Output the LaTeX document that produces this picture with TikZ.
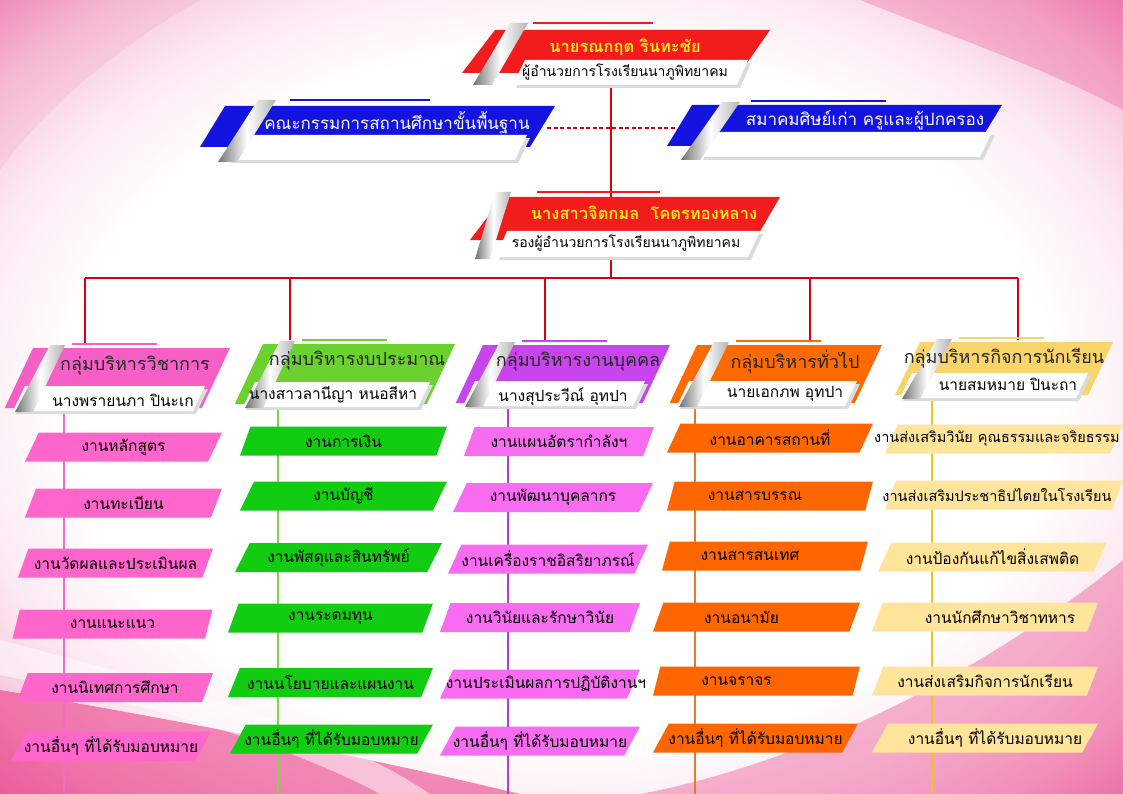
\documentclass[tikz,border=0pt]{standalone}
\usepackage{fontspec}
\newfontfamily\thai[Script=Thai]{Loma}
\usetikzlibrary{shapes.geometric}

\definecolor{hred}{HTML}{F21C1C}
\definecolor{nameY}{HTML}{FFE81A}
\definecolor{hblue}{HTML}{1414E0}
\definecolor{hpink}{HTML}{F55FC6}
\definecolor{hgreen}{HTML}{6AD12E}
\definecolor{hpurple}{HTML}{C844EC}
\definecolor{horange}{HTML}{FF6A00}
\definecolor{hyellow}{HTML}{F9D46A}
\definecolor{tpink}{HTML}{FF66CC}
\definecolor{tgreen}{HTML}{12CC12}
\definecolor{tmag}{HTML}{F86CF2}
\definecolor{torange}{HTML}{FF6600}
\definecolor{tyellow}{HTML}{FFE49C}
\definecolor{lpink}{HTML}{F06CC8}
\definecolor{lgreen}{HTML}{7CD64A}
\definecolor{lpurple}{HTML}{B43CD8}
\definecolor{lorange}{HTML}{E87830}
\definecolor{lyellow}{HTML}{F2C21A}
\definecolor{cred}{HTML}{D80010}
\definecolor{bgA}{HTML}{FCEAF2}
\definecolor{bgB}{HTML}{F7C2DA}
\definecolor{bgC}{HTML}{EE8CBC}
\definecolor{swA}{HTML}{E8307E}

\pgfdeclareradialshading{bgshade}{\pgfpoint{0bp}{0bp}}{color(0bp)=(white); color(22bp)=(white); color(27bp)=(bgA); color(32bp)=(bgB); color(36bp)=(bgC); color(50bp)=(bgC)}

\newcommand{\tsz}{\fontsize{15.5}{18}\selectfont}
\newcommand{\tszs}{\fontsize{14.5}{17}\selectfont}
\newcommand{\hsz}{\fontsize{18}{20}\selectfont}
\newcommand{\ssz}{\fontsize{15.5}{18}\selectfont}
\newcommand{\nsz}{\fontsize{16.5}{20}\selectfont}
\newcommand{\psz}{\fontsize{14}{17}\selectfont}

\tikzset{
  silver/.style={left color=black!55, right color=black!30, middle color=white},
  wshadow/.style={fill=black!14},
  topline/.style={line width=2pt, draw=#1},
  redline/.style={draw=cred, line width=2pt},
  colline/.style={draw=#1, line width=2.2pt},
  task/.style={trapezium, trapezium left angle=50, trapezium right angle=130,
    trapezium stretches body, minimum height=29pt, inner sep=0pt, fill=#1,
    font=\thai\tsz, text=black},
  htitle/.style={font=\thai\hsz, text=black!85},
  hsub/.style={font=\thai\ssz, text=black},
  psub/.style={font=\thai\psz, text=black},
  pname/.style={font=\thai\nsz\bfseries, text=nameY},
}

\newcommand{\grpHead}[5]{%
  \pgfmathsetmacro{\ghS}{0.47*#5}%
  \fill[#4] (#1,#2) -- (#1+#3,#2) -- (#1+#3-\ghS,#2+#5) -- (#1-\ghS,#2+#5) -- cycle;
  \fill[wshadow] (#1-5,#2+#5-19) -- (#1+#3-22,#2+#5-19) -- (#1+#3-34,#2+#5+6) -- (#1-17,#2+#5+6) -- cycle;
  \fill[white] (#1-8,#2+#5-22) -- (#1+#3-25,#2+#5-22) -- (#1+#3-37,#2+#5+3) -- (#1-20,#2+#5+3) -- cycle;
  \shade[silver] (#1+17,#2-3) -- (#1+32,#2-3) -- (#1,#2+#5+4) -- (#1-18,#2+#5+4) -- cycle;
  \draw[topline=#4] (#1+39,#2-4) -- (#1+124,#2-4);
}

\begin{document}
\begin{tikzpicture}[x=1pt,y=-1pt]
\useasboundingbox (0,0) rectangle (1123,794);
% background
\shade[shading=bgshade] (0,0) rectangle (1123,794);
\fill[swA, opacity=0.55] (0,690) .. controls (180,720) and (380,760) .. (520,794) -- (0,794) -- cycle;
\fill[white, opacity=0.5] (0,640) .. controls (150,680) and (320,720) .. (430,794) -- (380,794) .. controls (280,740) and (130,700) .. (0,675) -- cycle;
\fill[swA, opacity=0.35] (640,794) .. controls (820,760) and (1000,660) .. (1123,560) -- (1123,794) -- cycle;
\fill[swA, opacity=0.25] (860,0) .. controls (960,40) and (1050,70) .. (1123,110) -- (1123,0) -- cycle;
\fill[swA, opacity=0.08] (0,0) -- (200,0) .. controls (130,40) and (50,100) .. (0,170) -- cycle;

% connector coordinates
\coordinate (topB) at (611,85);
\coordinate (midT) at (611,197);
\coordinate (midB) at (611,257);
\coordinate (busC) at (611,278);
\coordinate (bus1) at (85,278);
\coordinate (bus2) at (290,278);
\coordinate (bus3) at (545,278);
\coordinate (bus4) at (810,278);
\coordinate (bus5) at (1018,278);
\coordinate (h1t) at (85,343);
\coordinate (h2t) at (290,340);
\coordinate (h3t) at (545,340);
\coordinate (h4t) at (810,340);
\coordinate (h5t) at (1018,340);
\coordinate (b1r) at (547,128);
\coordinate (b2l) at (675,128);

\draw[redline] (topB) -- (midT);
\draw[redline] (midB) -- (busC);
\draw[redline] (bus1) -- (bus5);
\draw[redline] (bus1) -- (h1t);
\draw[redline] (bus2) -- (h2t);
\draw[redline] (bus3) -- (h3t);
\draw[redline] (bus4) -- (h4t);
\draw[redline] (bus5) -- (h5t);
\draw[draw=cred, line width=1.6pt, dash pattern=on 4pt off 2.5pt] (b1r) -- (b2l);

% column lines
\coordinate (c1t) at (64,412);   \coordinate (c1b) at (64,794);
\coordinate (c2t) at (278,410);  \coordinate (c2b) at (278,794);
\coordinate (c3t) at (508,408);  \coordinate (c3b) at (508,794);
\coordinate (c4t) at (695,406);  \coordinate (c4b) at (695,794);
\coordinate (c5t) at (932,396);  \coordinate (c5b) at (932,794);
\draw[colline=lpink] (c1t) -- (c1b);
\draw[colline=lgreen] (c2t) -- (c2b);
\draw[colline=lpurple] (c3t) -- (c3b);
\draw[colline=lorange] (c4t) -- (c4b);
\draw[colline=lyellow] (c5t) -- (c5b);

% top red box
\fill[hred] (495,30) -- (770,30) -- (740,73) -- (462,73) -- cycle;
\fill[wshadow] (528,63) -- (751,63) -- (740,88) -- (516,88) -- cycle;
\fill[white] (525,60) -- (748,60) -- (737,85) -- (513,85) -- cycle;
\shade[silver] (510,23) -- (528,23) -- (492,85) -- (473,85) -- cycle;
\draw[topline=hred] (533,23) -- (653,23);
\node[pname] (t1) at (625,47) {นายรณกฤต รินทะชัย};
\node[psub] (t1s) at (625,72) {ผู้อำนวยการโรงเรียนนาภูพิทยาคม};

% left blue box
\fill[hblue] (225,106) -- (555,106) -- (530,147) -- (200,147) -- cycle;
\fill[wshadow] (243,138) -- (530,138) -- (518,163) -- (231,163) -- cycle;
\fill[white] (240,135) -- (527,135) -- (515,160) -- (228,160) -- cycle;
\shade[silver] (258,100) -- (276,100) -- (237,162) -- (218,162) -- cycle;
\draw[topline=hblue] (290,100) -- (430,100);
\node[font=\thai\fontsize{17}{20}\selectfont, text=white] (b1) at (397,123) {คณะกรรมการสถานศึกษาขั้นพื้นฐาน};

% right blue box
\fill[hblue] (692,105) -- (1002,105) -- (977,146) -- (667,146) -- cycle;
\fill[wshadow] (715,135) -- (995,135) -- (983,160) -- (703,160) -- cycle;
\fill[white] (712,132) -- (992,132) -- (980,157) -- (700,157) -- cycle;
\shade[silver] (722,102) -- (740,102) -- (700,160) -- (681,160) -- cycle;
\draw[topline=hblue] (751,101) -- (886,101);
\node[font=\thai\fontsize{17}{20}\selectfont, text=white] (b2) at (865,120) {สมาคมศิษย์เก่า ครูและผู้ปกครอง};

% second red box
\fill[hred] (503,197) -- (780,197) -- (755,240) -- (470,240) -- cycle;
\fill[wshadow] (510,234) -- (763,234) -- (751,260) -- (499,260) -- cycle;
\fill[white] (507,231) -- (760,231) -- (748,257) -- (496,257) -- cycle;
\shade[silver] (495,192) -- (511,192) -- (490,259) -- (475,259) -- cycle;
\draw[topline=hred] (537,192) -- (660,192);
\node[pname] (t2) at (644,213) {นางสาวจิตกมล\ \ โคตรทองหลาง};
\node[psub] (t2s) at (626,243) {รองผู้อำนวยการโรงเรียนนาภูพิทยาคม};

% group headers
\grpHead{33}{348}{197}{hpink}{60}
\grpHead{263}{344}{192}{hgreen}{60}
\grpHead{483}{345}{187}{hpurple}{58}
\grpHead{697}{345}{185}{horange}{58}
\grpHead{920}{342}{193}{hyellow}{53}

\node[htitle] (h1) at (135,366) {กลุ่มบริหารวิชาการ};
\node[hsub] (h1s) at (123,400) {นางพรายนภา ปินะเก};
\node[htitle] (h2) at (357,361) {กลุ่มบริหารงบประมาณ};
\node[hsub] (h2s) at (333,395) {นางสาวลานีญา หนอสีหา};
\node[htitle] (h3) at (578,362) {กลุ่มบริหารงานบุคคล};
\node[hsub] (h3s) at (563,397) {นางสุประวีณ์ อุทปา};
\node[htitle] (h4) at (795,362) {กลุ่มบริหารทั่วไป};
\node[hsub] (h4s) at (785,394) {นายเอกภพ อุทปา};
\node[htitle] (h5) at (1004,358) {กลุ่มบริหารกิจการนักเรียน};
\node[hsub] (h5s) at (1008,384) {นายสมหมาย ปินะถา};

% column 1 tasks
\node[task=tpink, minimum width=197pt] (p1) at (123.5,447) {\makebox[0pt]{งานหลักสูตร}};
\node[task=tpink, minimum width=197pt] (p2) at (123.5,503) {\makebox[0pt]{งานทะเบียน}};
\node[task=tpink, minimum width=195pt] (p3) at (115.5,563) {\makebox[0pt]{งานวัดผลและประเมินผล}};
\node[task=tpink, minimum width=200pt] (p4) at (112.5,624) {\makebox[0pt]{งานแนะแนว}};
\node[task=tpink, minimum width=196pt] (p5) at (115,687.5) {\makebox[0pt]{งานนิเทศการศึกษา}};
\node[task=tpink, minimum width=200pt] (p6) at (111,746) {\makebox[0pt]{งานอื่นๆ ที่ได้รับมอบหมาย}};

% column 2 tasks
\node[task=tgreen, minimum width=207pt] (g1) at (343.5,441) {\makebox[0pt]{งานการเงิน}};
\node[task=tgreen, minimum width=207pt] (g2) at (343.5,496) {\makebox[0pt]{งานบัญชี}};
\node[task=tgreen, minimum width=207pt] (g3) at (338.5,557.5) {\makebox[0pt]{งานพัสดุและสินทรัพย์}};
\node[task=tgreen, minimum width=205pt] (g4) at (330.5,618) {\makebox[0pt]{งานระดมทุน}};
\node[task=tgreen, minimum width=205pt] (g5) at (330.5,682.5) {\makebox[0pt]{งานนโยบายและแผนงาน}};
\node[task=tgreen, minimum width=203pt] (g6) at (331.5,739) {\makebox[0pt]{งานอื่นๆ ที่ได้รับมอบหมาย}};

% column 3 tasks
\node[task=tmag, minimum width=190pt] (m1) at (559,441.5) {\makebox[0pt]{งานแผนอัตรากำลังฯ}};
\node[task=tmag, minimum width=200pt] (m2) at (553,497.5) {\makebox[0pt]{งานพัฒนาบุคลากร}};
\node[task=tmag, minimum width=200pt] (m3) at (548,559) {\makebox[0pt]{งานเครื่องราชอิสริยาภรณ์}};
\node[task=tmag, minimum width=200pt] (m4) at (540,617.5) {\makebox[0pt]{งานวินัยและรักษาวินัย}};
\node[task=tmag, minimum width=200pt] (m5) at (540,684) {\makebox[0pt]{\hspace{12pt}งานประเมินผลการปฏิบัติงานฯ}};
\node[task=tmag, minimum width=200pt] (m6) at (540,741) {\makebox[0pt]{งานอื่นๆ ที่ได้รับมอบหมาย}};

% column 4 tasks
\node[task=torange, minimum width=206pt] (o1) at (770,438) {\makebox[0pt]{งานอาคารสถานที่}};
\node[task=torange, minimum width=206pt] (o2) at (770,496) {\makebox[0pt]{\hspace{-30pt}งานสารบรรณ}};
\node[task=torange, minimum width=206pt] (o3) at (765,556) {\makebox[0pt]{\hspace{-30pt}งานสารสนเทศ}};
\node[task=torange, minimum width=207pt] (o4) at (756.5,617) {\makebox[0pt]{\hspace{-30pt}งานอนามัย}};
\node[task=torange, minimum width=207pt] (o5) at (756.5,681) {\makebox[0pt]{\hspace{-40pt}งานจราจร}};
\node[task=torange, minimum width=205pt] (o6) at (755.5,738) {\makebox[0pt]{งานอื่นๆ ที่ได้รับมอบหมาย}};

% column 5 tasks
\node[task=tyellow, minimum width=238pt] (y1) at (1004,439) {\makebox[0pt]{\tszs\hspace{-14pt}งานส่งเสริมวินัย คุณธรรมและจริยธรรม}};
\node[task=tyellow, minimum width=238pt] (y2) at (1004,495) {\makebox[0pt]{\tszs\hspace{-14pt}งานส่งเสริมประชาธิปไตยในโรงเรียน}};
\node[task=tyellow, minimum width=229pt] (y3) at (992.5,557) {\makebox[0pt]{งานป้องกันแก้ไขสิ่งเสพติด}};
\node[task=tyellow, minimum width=226pt] (y4) at (985,617) {\makebox[0pt]{\hspace{30pt}งานนักศึกษาวิชาทหาร}};
\node[task=tyellow, minimum width=226pt] (y5) at (985,681) {\makebox[0pt]{งานส่งเสริมกิจการนักเรียน}};
\node[task=tyellow, minimum width=226pt] (y6) at (985,738) {\makebox[0pt]{\hspace{20pt}งานอื่นๆ ที่ได้รับมอบหมาย}};
\end{tikzpicture}
\end{document}
